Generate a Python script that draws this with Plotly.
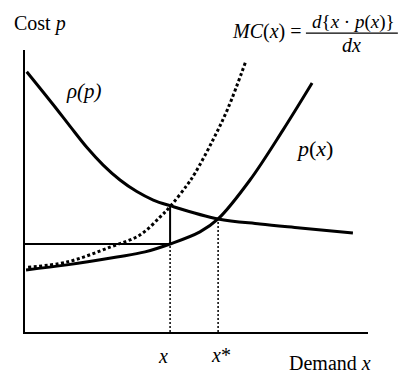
import plotly.graph_objects as go

# Demand curve rho(p)
demand_x = [0.05, 0.83, 1.31, 1.80, 2.28, 2.77, 3.26, 3.74, 4.23, 5.63, 6.85, 8.02, 9.56]
demand_y = [9.23, 8.05, 7.30, 6.55, 5.92, 5.39, 4.98, 4.68, 4.48, 4.01, 3.83, 3.69, 3.51]

# Supply / cost curve p(x)
supply_x = [0.03, 1.22, 2.68, 3.50, 4.23, 5.10, 5.63, 6.56, 7.52, 8.37]
supply_y = [2.20, 2.38, 2.66, 2.84, 3.12, 3.55, 4.01, 5.39, 7.16, 8.83]

# Marginal cost MC(x) (dotted)
mc_x = [0.09, 1.22, 2.48, 3.35, 3.94, 4.23, 4.72, 4.96, 5.48, 5.92, 6.44]
mc_y = [2.30, 2.48, 3.01, 3.44, 4.08, 4.45, 5.20, 5.64, 6.81, 7.94, 9.61]

# Key quantities
x_mono = 4.23      # monopoly demand x
p_mono = 3.12      # p(x) at x
rho_mono = 4.48    # rho at x
x_star = 5.63      # equilibrium x*
p_star = 4.01

FONT = "Liberation Serif, Times New Roman, serif"

fig = go.Figure()

fig.add_trace(go.Scatter(x=demand_x, y=demand_y, mode="lines",
                         line=dict(color="black", width=3, shape="spline"),
                         hoverinfo="skip"))
fig.add_trace(go.Scatter(x=supply_x, y=supply_y, mode="lines",
                         line=dict(color="black", width=3, shape="spline"),
                         hoverinfo="skip"))
fig.add_trace(go.Scatter(x=mc_x, y=mc_y, mode="lines",
                         line=dict(color="black", width=3, shape="spline", dash="3px,2.5px"),
                         hoverinfo="skip"))

# Horizontal solid line at p(x) and vertical solid between p(x) and rho
fig.add_trace(go.Scatter(x=[0, x_mono, x_mono], y=[p_mono, p_mono, rho_mono], mode="lines",
                         line=dict(color="black", width=2), hoverinfo="skip"))
# Dotted drop lines
fig.add_trace(go.Scatter(x=[x_mono, x_mono], y=[0, p_mono], mode="lines",
                         line=dict(color="black", width=1.5, dash="2px,2px"), hoverinfo="skip"))
fig.add_trace(go.Scatter(x=[x_star, x_star], y=[0, p_star], mode="lines",
                         line=dict(color="black", width=1.5, dash="2px,2px"), hoverinfo="skip"))

NB = "\u00a0"
ann = [
    dict(text="Cost <i>p</i>", x=-0.038, y=1.095, xanchor="left", size=20),
    dict(text="<i>ρ(p)</i>", x=0.172, y=0.855, xanchor="center", size=21),
    dict(text="<i>p</i>(<i>x</i>)", x=0.843, y=0.652, xanchor="center", size=22),
    dict(text="<i>MC</i>(<i>x</i>)" + NB + "=" + NB, x=0.598, y=1.064, xanchor="left", size=20),
    dict(text="<i>d</i>{<i>x</i> · <i>p</i>(<i>x</i>)}", x=0.958, y=1.101, xanchor="center", size=19),
    dict(text="<i>dx</i>", x=0.953, y=1.018, xanchor="center", size=20),
    dict(text="<i>x</i>", x=0.402, y=-0.085, xanchor="center", size=20),
    dict(text="<i>x</i>*", x=0.571, y=-0.080, xanchor="center", size=20),
    dict(text="Demand <i>x</i>", x=0.889, y=-0.110, xanchor="center", size=20),
]
annotations = [dict(text=a["text"], x=a["x"], y=a["y"], xref="paper", yref="paper",
                    xanchor=a["xanchor"], yanchor="middle", showarrow=False,
                    font=dict(family=FONT, size=a["size"], color="black"))
               for a in ann]

fig.update_layout(
    width=401, height=374,
    margin=dict(l=25, r=33, t=50, b=42),
    paper_bgcolor="white", plot_bgcolor="white",
    showlegend=False,
    annotations=annotations,
    shapes=[dict(type="line", xref="paper", yref="paper", x0=0.819, x1=1.087, y0=1.060, y1=1.060,
                 line=dict(color="black", width=1.2))],
)
fig.update_xaxes(range=[0, 10], showline=True, linecolor="black", linewidth=2,
                 showgrid=False, zeroline=False, showticklabels=False, ticks="")
fig.update_yaxes(range=[0, 10], showline=True, linecolor="black", linewidth=2,
                 showgrid=False, zeroline=False, showticklabels=False, ticks="")

fig.write_html("out.html", config={"displayModeBar": False},
               post_script="document.body.style.margin='0';document.body.style.overflow='hidden';")
